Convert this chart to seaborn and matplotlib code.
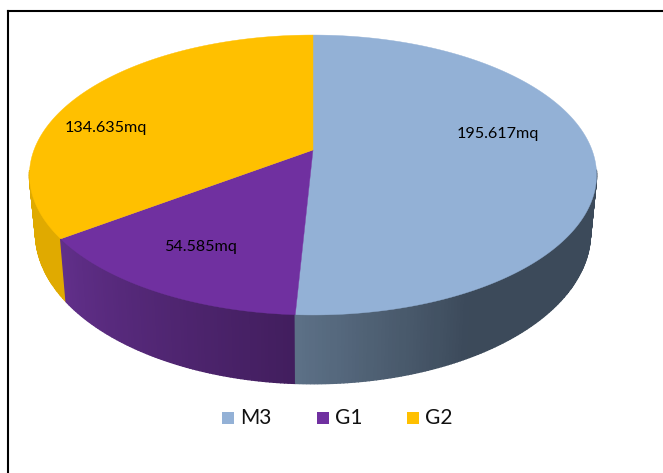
import matplotlib
matplotlib.use('Agg')
import matplotlib.pyplot as plt
import seaborn as sns
import numpy as np

categories = ['M3', 'G1', 'G2']
values = [195.617, 54.585, 134.635]
labels = ['195.617mq', '54.585mq', '134.635mq']

top_colors = ['#93b1d6', '#7030a0', '#ffc000']
wall_stops = [
    ['#3c4a5a'] * 6 + ['#5c7086'],
    ['#421e5e', '#612f8a'],
    ['#e0aa00', '#dca800'],
]

sns.set_theme(style='white')
plt.rcParams['font.family'] = ['Lato', 'DejaVu Sans']

# perspective disc: centre of the pie is not the middle of the ellipse
def project(theta, a, b, k, cy):
    u, v = np.sin(theta), np.cos(theta)
    d = 1 + k * v
    return 313 + a * u / d, cy - b * v / d

fig, ax = plt.subplots(figsize=(6.63, 4.73), dpi=100)
ax.set_position([0, 0, 1, 1])
ax.set_xlim(0, 663)
ax.set_ylim(473, 0)
ax.axis('off')

frac = np.array(values) / sum(values)
edges = np.concatenate([[0], np.cumsum(frac)]) * 2 * np.pi

# side walls, back to front, hidden back part skipped
quads = []
for i in range(3):
    n = max(int((edges[i + 1] - edges[i]) * 90), 2)
    th = np.linspace(edges[i], edges[i + 1], n + 1)
    pal = sns.blend_palette(wall_stops[i], n)
    for j in range(n):
        if np.cos(th[j]) > -0.15 and np.cos(th[j + 1]) > -0.15:
            continue
        x0, y0 = project(th[j], 279, 135.5, 0.1786, 150)
        x1, y1 = project(th[j + 1], 279, 135.5, 0.1786, 150)
        x2, y2 = project(th[j + 1], 273, 146, 0.1786, 206)
        x3, y3 = project(th[j], 273, 146, 0.1786, 206)
        quads.append((np.cos(th[j]), [x0, x1, x2, x3], [y0, y1, y2, y3], pal[j]))
for _, xs, ys, c in sorted(quads, key=lambda q: -q[0]):
    ax.fill(xs, ys, color=c, lw=1.0, zorder=2)

# top faces
for i in range(3):
    th = np.linspace(edges[i], edges[i + 1], 200)
    xs, ys = project(th, 279, 135.5, 0.1786, 150)
    ax.fill(np.r_[313, xs], np.r_[150, ys], color=top_colors[i], lw=0.3, zorder=3)

for txt, x, y in zip(labels, [497.5, 200, 106], [134, 247, 128]):
    ax.text(x, y, txt, fontsize=11.6, color='black', ha='center', va='center', zorder=4)

# legend
for c, name, x in zip(top_colors, categories, [222, 317, 407]):
    ax.fill([x, x + 12, x + 12, x], [412, 412, 424, 424], color=c, lw=0)
    ax.text(x + 18, 417.5, name, fontsize=15, color='#111111', ha='left', va='center')

# chart border
ax.plot([8, 8], [473, 11], color='black', lw=1.5, solid_capstyle='projecting')
ax.plot([8, 663], [11, 11], color='black', lw=1.5, solid_capstyle='projecting')

fig.savefig('out.png', dpi=100)
plt.close()
